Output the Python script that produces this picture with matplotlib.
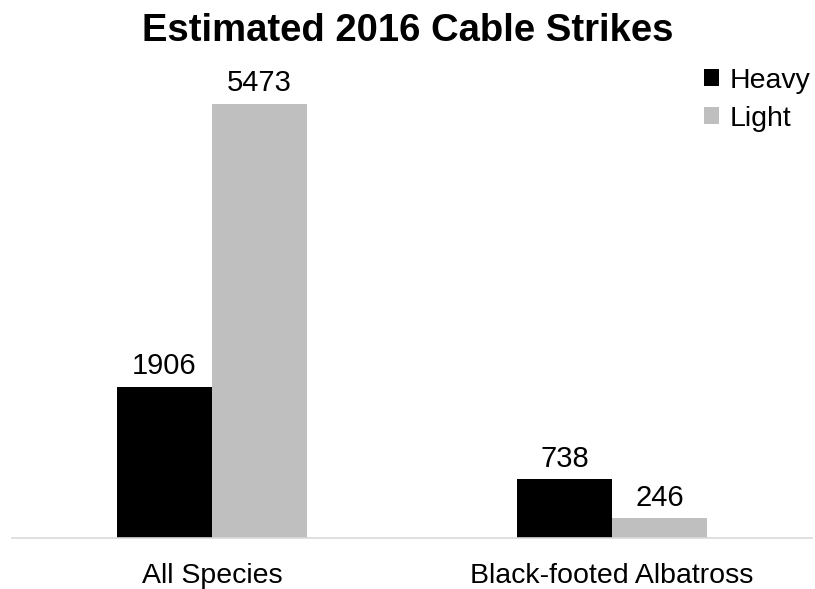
import matplotlib
matplotlib.use("Agg")
import matplotlib.pyplot as plt
import numpy as np

categories = ["All Species", "Black-footed Albatross"]
series_names = ["Heavy", "Light"]
heavy = [1906, 738]
light = [5473, 246]
colors = ["#000000", "#bfbfbf"]

plt.rcParams['font.family'] = ['Liberation Sans', 'DejaVu Sans']

fig = plt.figure(figsize=(8.15, 5.89), dpi=100)
ax = fig.add_axes([12/815, 1 - 538/589, 800/815, (538 - 104)/589 * 1.0])

x = np.arange(len(categories))
w = 0.2375
b1 = ax.bar(x - w/2, heavy, w, color=colors[0], label=series_names[0])
b2 = ax.bar(x + w/2, light, w, color=colors[1], label=series_names[1])

for bars in (b1, b2):
    for r in bars:
        ax.annotate(f"{int(r.get_height())}", (r.get_x() + r.get_width()/2, r.get_height()),
                    xytext=(0, 5), textcoords="offset points", ha="center", va="bottom",
                    fontsize=21)

ax.set_xlim(-0.5, 1.5)
ax.set_ylim(0, 5473)
ax.set_yticks([])
ax.set_xticks(x)
ax.set_xticklabels(categories, fontsize=20.5)
ax.tick_params(axis='x', length=0, pad=18)
for s in ["top", "right", "left"]:
    ax.spines[s].set_visible(False)
ax.spines["bottom"].set_color("#d9d9d9")
ax.spines["bottom"].set_linewidth(1.2)

fig.text(0.5, 1 - 31/589, "Estimated 2016 Cable Strikes", ha="center", va="center",
         fontsize=27.5, fontweight="bold")

leg = fig.legend(handles=[b1, b2], labels=series_names, loc="upper right",
                 bbox_to_anchor=(1 - 2/815, 1 - 65/589), frameon=False, fontsize=20.5,
                 handlelength=0.55, handleheight=0.55, handletextpad=0.35, labelspacing=0.42,
                 borderaxespad=0.0, borderpad=0.1)

fig.savefig("out.png", dpi=100)
